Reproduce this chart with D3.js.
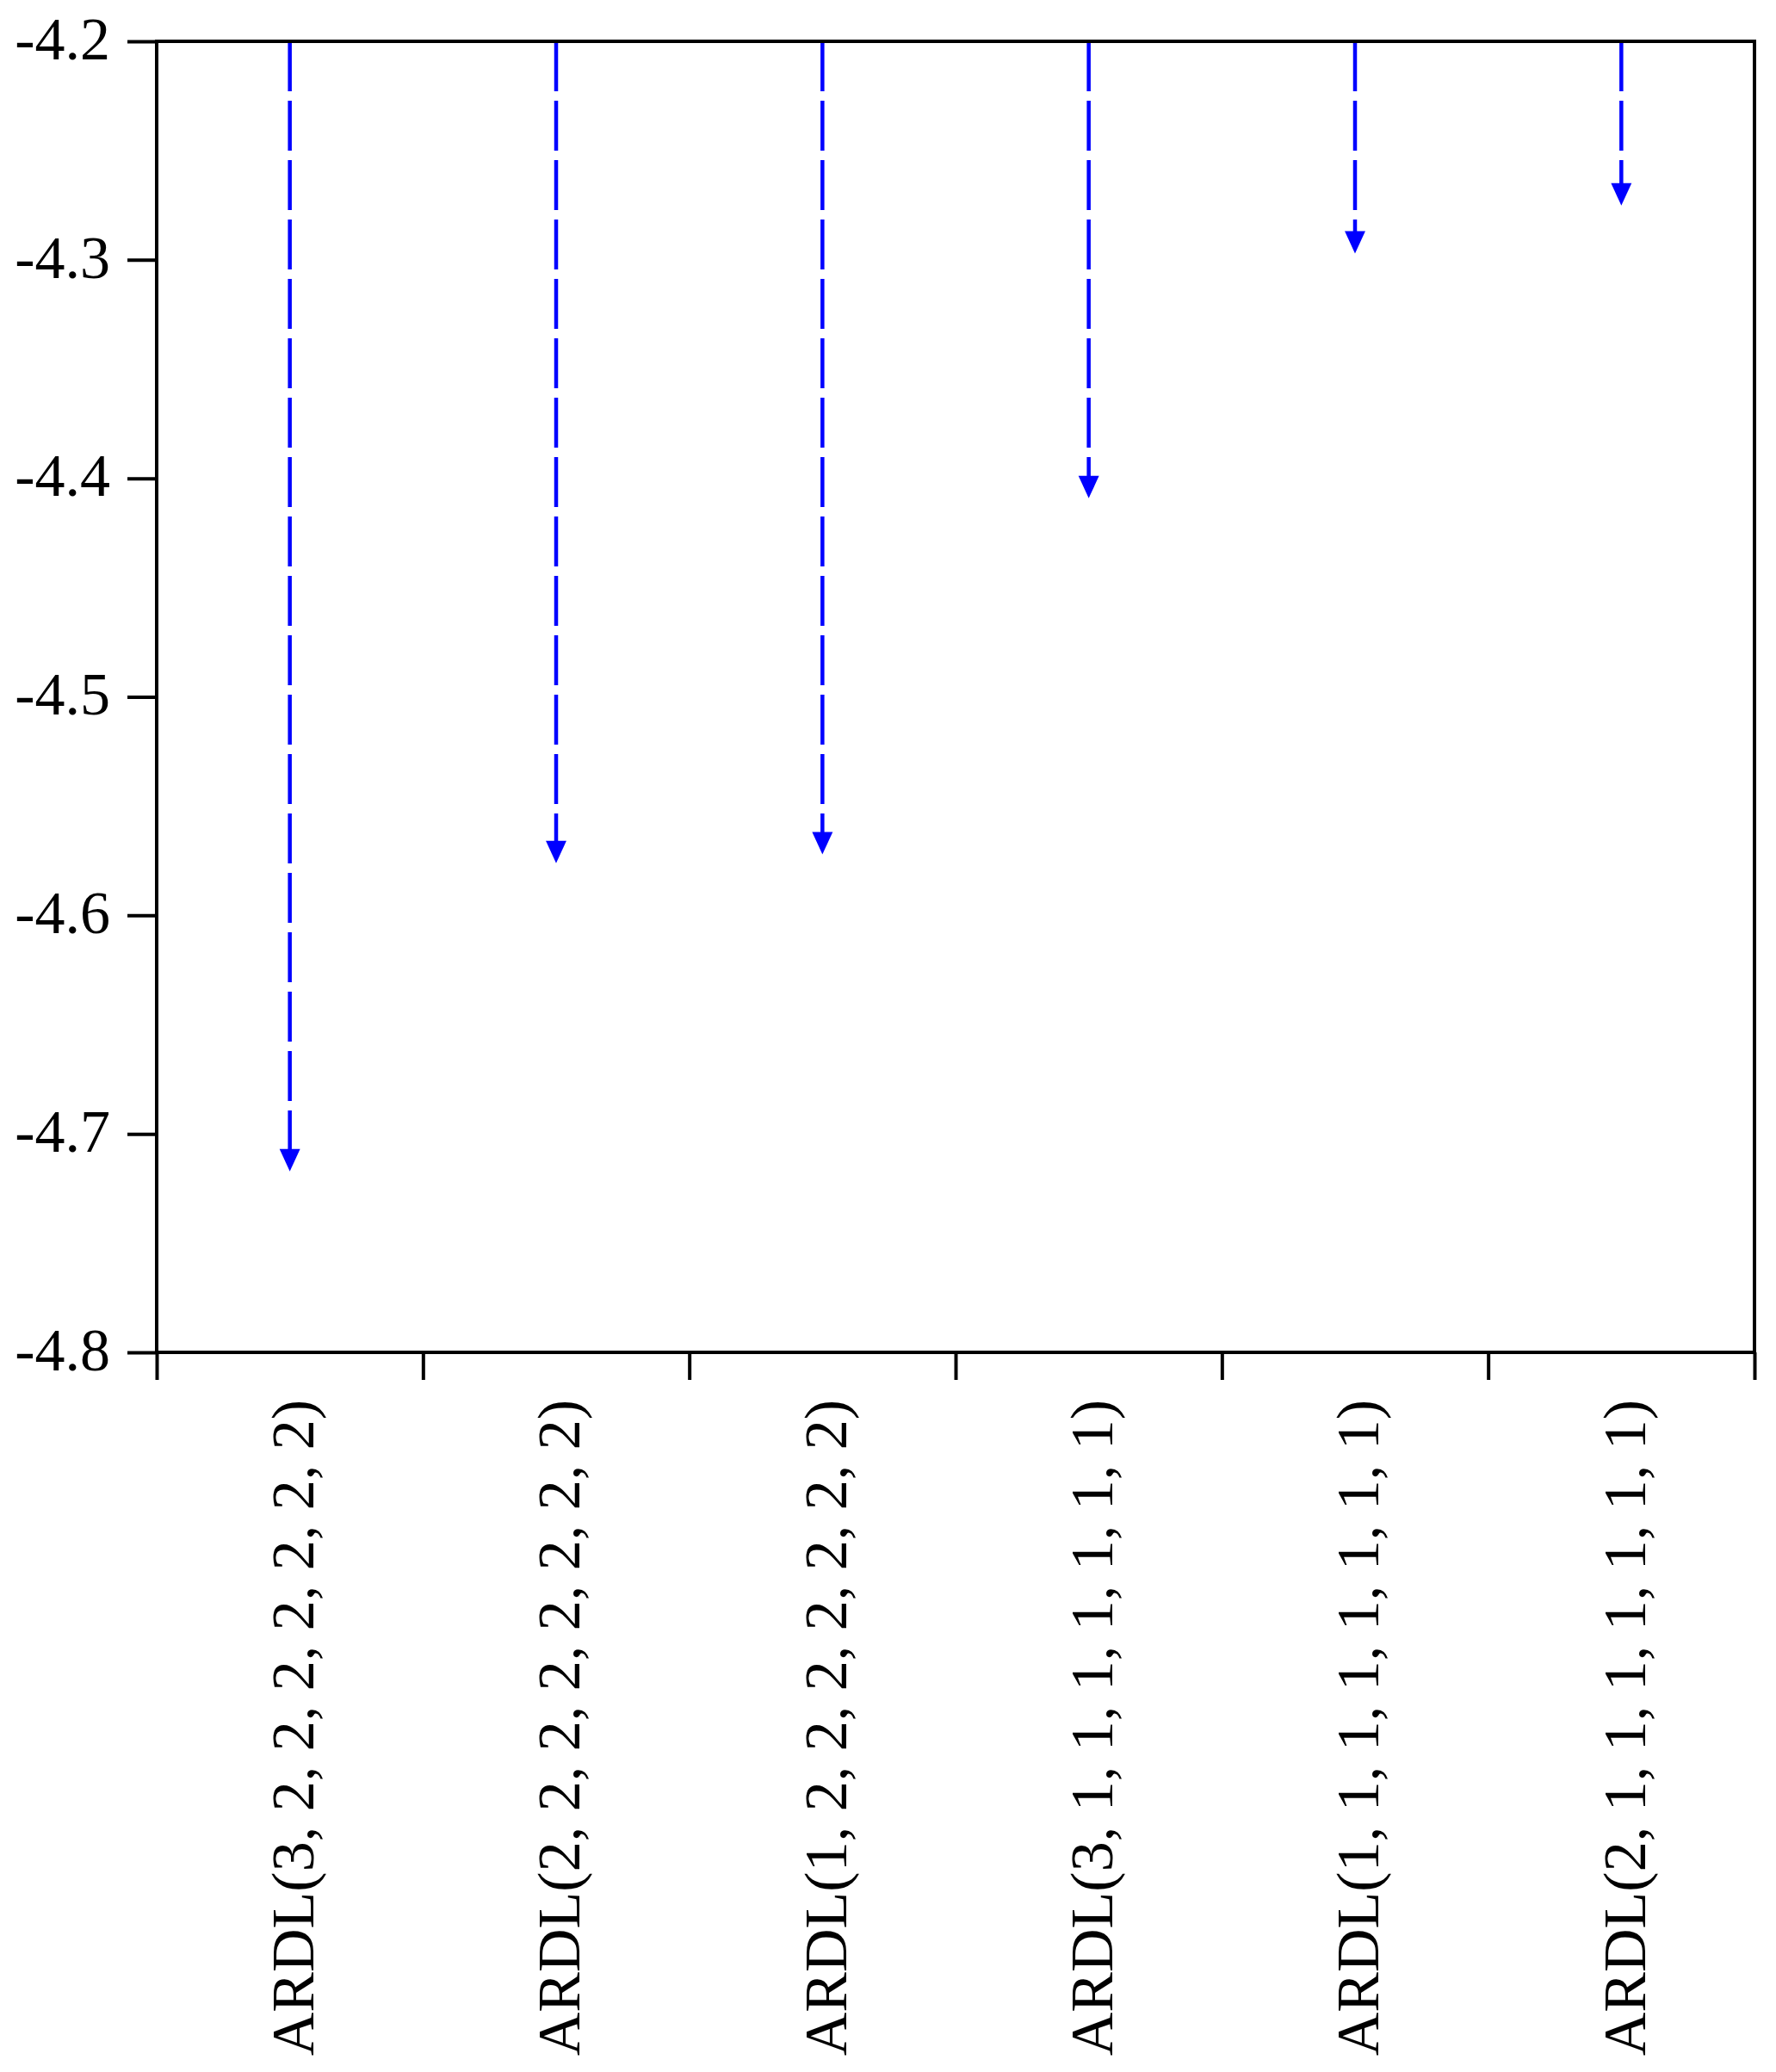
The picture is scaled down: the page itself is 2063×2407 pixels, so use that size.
<!DOCTYPE html>
<html>
<head>
<meta charset="utf-8">
<script src="https://cdn.jsdelivr.net/npm/d3@7"></script>
<style>
  html, body { margin: 0; padding: 0; background: #ffffff; }
  svg { display: block; }
</style>
</head>
<body>
<svg id="chart" width="2063" height="2407"></svg>
<script>
// ---- data ----
const categories = [
  "ARDL(3, 2, 2, 2, 2, 2, 2, 2)",
  "ARDL(2, 2, 2, 2, 2, 2, 2, 2)",
  "ARDL(1, 2, 2, 2, 2, 2, 2, 2)",
  "ARDL(3, 1, 1, 1, 1, 1, 1, 1)",
  "ARDL(1, 1, 1, 1, 1, 1, 1, 1)",
  "ARDL(2, 1, 1, 1, 1, 1, 1, 1)"
];
const values = [-4.712, -4.571, -4.567, -4.404, -4.292, -4.270];
const yTickValues = [-4.2, -4.3, -4.4, -4.5, -4.6, -4.7, -4.8];
const yTickLabels = ["-4.2", "-4.3", "-4.4", "-4.5", "-4.6", "-4.7", "-4.8"];
const yDomain = [-4.8, -4.2];

// ---- layout ----
const plotLeft = 182, plotRight = 2038, plotTop = 48, plotBottom = 1571;
const fontFamily = "'Liberation Serif', 'Times New Roman', serif";
const svg = d3.select("#chart");

const x = d3.scaleBand().domain(categories).range([plotLeft, plotRight]).padding(0);
const xEdges = d3.scaleLinear().domain([0, categories.length]).range([plotLeft, plotRight]);
const y = d3.scaleLinear().domain(yDomain).range([plotBottom, plotTop]);

// y axis
const yAxis = svg.append("g")
  .attr("transform", `translate(${plotLeft},0)`)
  .call(d3.axisLeft(y).tickValues(yTickValues).tickSize(34).tickPadding(20)
    .tickFormat((d, i) => yTickLabels[i]));
yAxis.select(".domain").remove();
yAxis.selectAll(".tick line").attr("stroke", "#000").attr("stroke-width", 4);
yAxis.selectAll(".tick text")
  .attr("font-family", fontFamily).attr("font-size", 70).attr("fill", "#000")
  .attr("dy", "0.29em");

// x axis ticks at band edges
const xAxis = svg.append("g")
  .attr("transform", `translate(0,${plotBottom})`)
  .call(d3.axisBottom(xEdges).tickValues(d3.range(categories.length + 1)).tickSize(32).tickFormat(""));
xAxis.select(".domain").remove();
xAxis.selectAll(".tick line").attr("stroke", "#000").attr("stroke-width", 4);

// x labels (rotated)
svg.append("g").selectAll("text")
  .data(categories)
  .join("text")
  .attr("transform", d => `translate(${x(d) + x.bandwidth() / 2},1626) rotate(-90)`)
  .attr("text-anchor", "end")
  .attr("dy", "0.39em")
  .attr("font-family", fontFamily)
  .attr("font-size", 70)
  .attr("fill", "#000")
  .text(d => d);

// droplines
const data = categories.map((c, i) => ({ c, v: values[i] }));
svg.append("g").selectAll("line")
  .data(data)
  .join("line")
  .attr("x1", d => x(d.c) + x.bandwidth() / 2)
  .attr("x2", d => x(d.c) + x.bandwidth() / 2)
  .attr("y1", y(yDomain[1]))
  .attr("y2", d => y(d.v))
  .attr("stroke", "#0000ff")
  .attr("stroke-width", 4.5)
  .attr("stroke-dasharray", "58,11");

// down-triangle markers
const downTri = {
  draw(ctx, size) {
    const w = Math.sqrt(size) * 0.92, h = Math.sqrt(size);
    ctx.moveTo(-w / 2, -h / 2);
    ctx.lineTo(w / 2, -h / 2);
    ctx.lineTo(0, h / 2);
    ctx.closePath();
  }
};
svg.append("g").selectAll("path")
  .data(data)
  .join("path")
  .attr("transform", d => `translate(${x(d.c) + x.bandwidth() / 2},${y(d.v)})`)
  .attr("d", d3.symbol().type(downTri).size(26 * 26))
  .attr("fill", "#0000ff");

// frame
svg.append("rect")
  .attr("x", plotLeft).attr("y", plotTop)
  .attr("width", plotRight - plotLeft).attr("height", plotBottom - plotTop)
  .attr("fill", "none").attr("stroke", "#000").attr("stroke-width", 4);
</script>
</body>
</html>
